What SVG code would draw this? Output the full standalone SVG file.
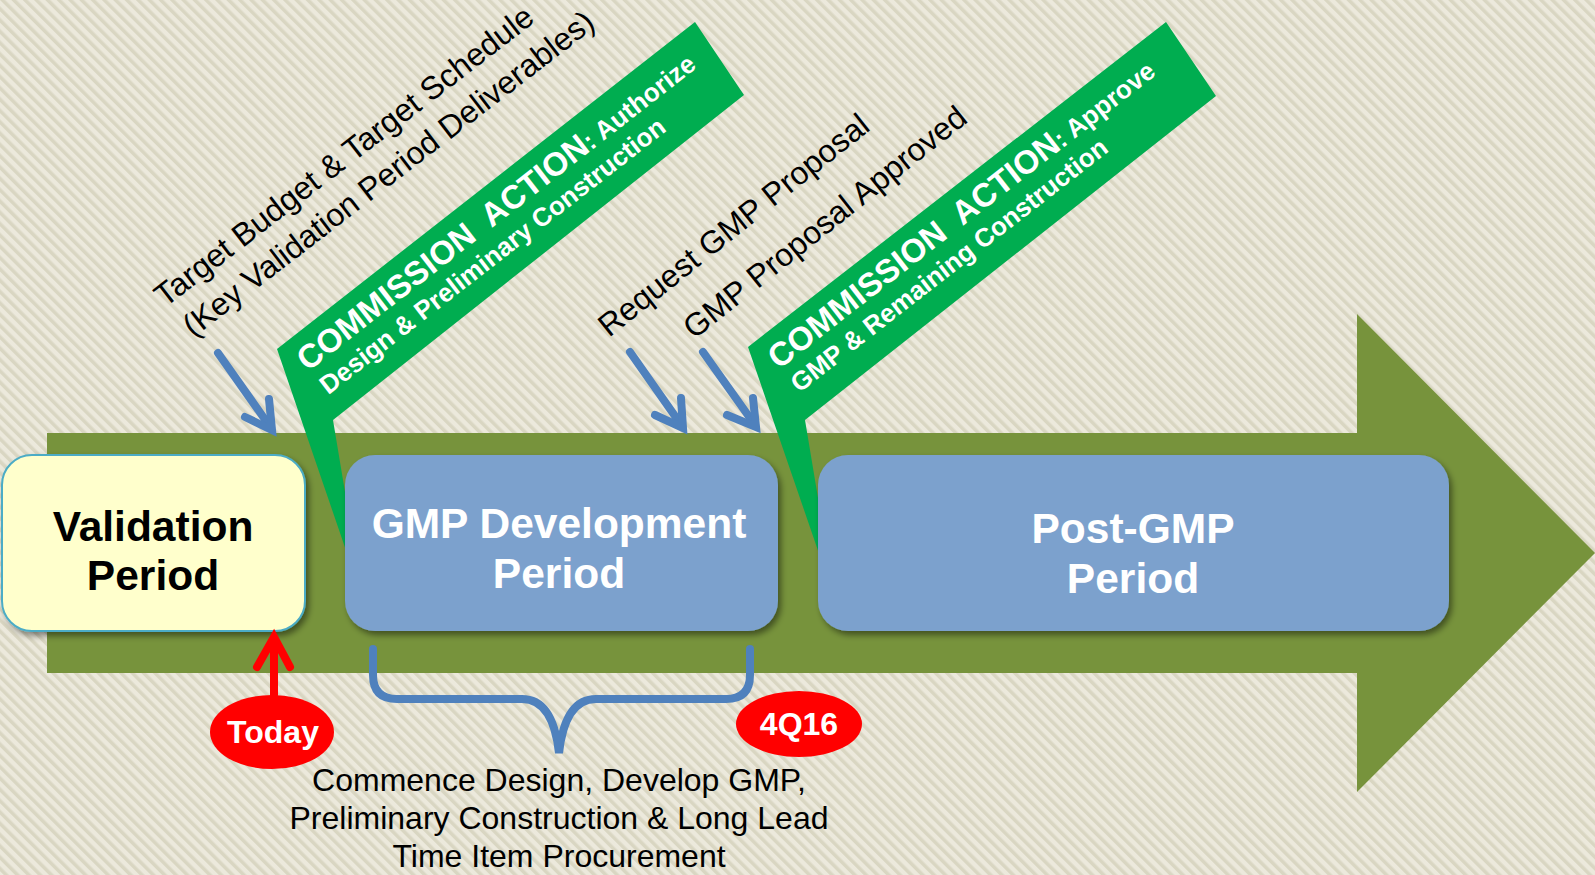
<svg xmlns="http://www.w3.org/2000/svg" width="1595" height="875" viewBox="0 0 1595 875">
<defs>
<pattern id="bg" width="8" height="8" patternUnits="userSpaceOnUse" patternTransform="rotate(-45)">
<rect width="8" height="8" fill="#ECE9DC"/>
<rect width="3.5" height="8" fill="#D9D6C2"/>
</pattern>
<filter id="sh" x="-10%" y="-10%" width="130%" height="140%">
<feDropShadow dx="3" dy="4" stdDeviation="3" flood-color="#000" flood-opacity="0.45"/>
</filter>
</defs>
<style>
.ann{font-family:"Liberation Sans",Arial,sans-serif;font-size:32px;fill:#000}
.ca{font-family:"Liberation Sans",Arial,sans-serif;font-weight:bold;fill:#fff;white-space:pre}
.big{font-family:"Liberation Sans",Arial,sans-serif;font-weight:bold;text-anchor:middle;font-size:42.5px}
.callout{fill:#00AD50}
.box{fill:#7BA1CD;filter:url(#sh)}
.blu{fill:none;stroke:#4F81BD;stroke-width:8;stroke-linecap:round;stroke-linejoin:miter}
.red{fill:none;stroke:#FF0000;stroke-width:8;stroke-linecap:round;stroke-linejoin:miter}
.oval{fill:#FF0000}
.ovt{font-family:"Liberation Sans",Arial,sans-serif;font-weight:bold;fill:#fff;text-anchor:middle;font-size:32px}
</style>
<rect width="1595" height="875" fill="url(#bg)"/>
<g id="timeline-arrow">
<polygon points="47,433 1357,433 1357,314 1595,553 1357,792 1357,673 47,673" fill="#77933C"/>
</g>
<g id="callout-authorize">
<polygon class="callout" points="277,349 695,22 744,95 333,420 363,600"/>
<g transform="translate(277,349) rotate(-38)">
<text class="ca" x="10" y="37"><tspan font-size="33px">COMMISSION  ACTION</tspan><tspan font-size="26px">: Authorize</tspan></text>
<text class="ca" x="12" y="68" font-size="26px">Design &amp; Preliminary Construction</text>
</g>
</g>
<g id="callout-approve">
<polygon class="callout" points="748,347 1166,22 1216,96 805,420 835,600"/>
<g transform="translate(748,347) rotate(-38)">
<text class="ca" x="10" y="37"><tspan font-size="33px">COMMISSION  ACTION</tspan><tspan font-size="26px">: Approve</tspan></text>
<text class="ca" x="12" y="68" font-size="26px">GMP &amp; Remaining Construction</text>
</g>
</g>
<g id="validation-period">
<rect x="2" y="455" width="303" height="176" rx="30" fill="#FFFFCC" stroke="#4BACC6" stroke-width="2" filter="url(#sh)"/>
<text class="big" x="153" y="541" fill="#000">Validation</text>
<text class="big" x="153" y="590" fill="#000">Period</text>
</g>
<g id="gmp-development-period">
<rect class="box" x="345" y="455" width="433" height="176" rx="30"/>
<text class="big" x="559" y="538" fill="#fff">GMP Development</text>
<text class="big" x="559" y="588" fill="#fff">Period</text>
</g>
<g id="post-gmp-period">
<rect class="box" x="818" y="455" width="631" height="176" rx="30"/>
<text class="big" x="1133" y="543" fill="#fff">Post-GMP</text>
<text class="big" x="1133" y="593" fill="#fff">Period</text>
</g>
<g id="annotations">
<g transform="translate(165,308) rotate(-37.7)">
<text class="ann" x="0" y="0">Target Budget &amp; Target Schedule</text>
<text class="ann" x="4" y="41" font-size="31.5px">(Key Validation Period Deliverables)</text>
</g>
<text class="ann" transform="translate(609,338) rotate(-38.5)">Request GMP Proposal</text>
<text class="ann" transform="translate(694,340) rotate(-38.5)">GMP Proposal Approved</text>
<text class="ann" x="559" y="791" text-anchor="middle">Commence Design, Develop GMP,</text>
<text class="ann" x="559" y="829" text-anchor="middle">Preliminary Construction &amp; Long Lead</text>
<text class="ann" x="559" y="867" text-anchor="middle">Time Item Procurement</text>
</g>
<g id="today">
<ellipse class="oval" cx="272" cy="732" rx="62" ry="37"/>
<text class="ovt" x="273" y="743">Today</text>
</g>
<g id="q4-2016">
<ellipse class="oval" cx="799" cy="724" rx="63" ry="33"/>
<text class="ovt" x="799" y="735" font-size="31.5px">4Q16</text>
</g>
<g id="connectors">
<line class="blu" x1="218" y1="353" x2="271" y2="428"/>
<polyline class="blu" points="245,417 272,430 269,399"/>
<line class="blu" x1="630" y1="352" x2="682" y2="426"/>
<polyline class="blu" points="655,415 683,428 681,398"/>
<line class="blu" x1="703" y1="352" x2="755" y2="425"/>
<polyline class="blu" points="727,415 756,427 753,398"/>
<line class="red" x1="274" y1="695" x2="274" y2="640"/>
<polyline class="red" points="257,667 274,637 290,667"/>
<path class="blu" stroke-width="6" d="M373,649 L373,675 Q373,699 397,699 L522,699 Q553,699 559,753 Q565,699 596,699 L726,699 Q750,699 750,675 L750,649"/>
</g>
</svg>
